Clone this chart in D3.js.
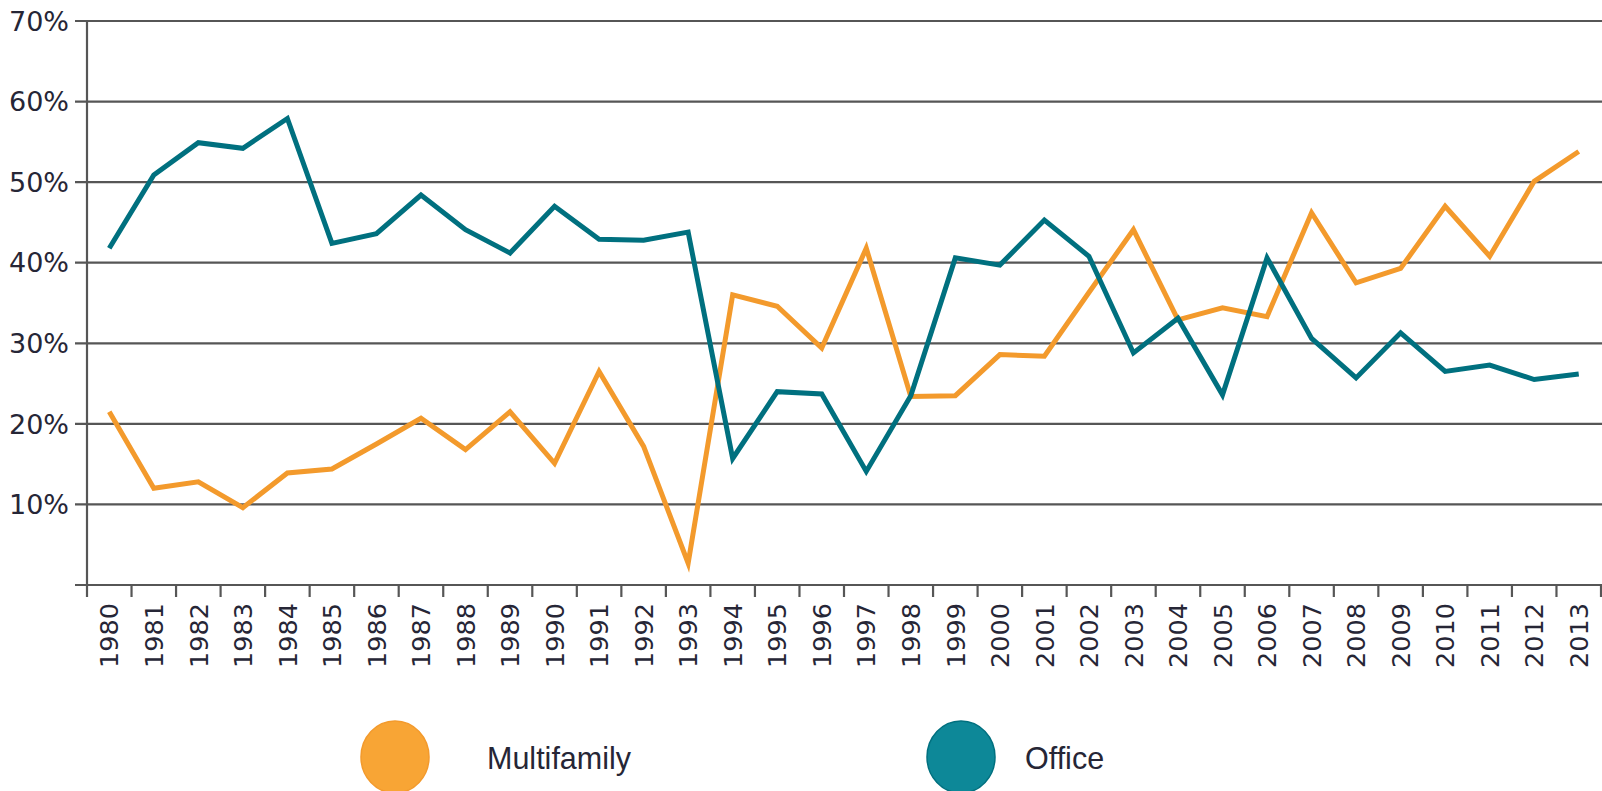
<!DOCTYPE html>
<html lang="en">
<head>
  <meta charset="UTF-8">
  <title>Multifamily vs Office share, 1980-2013</title>
  <script src="https://d3js.org/d3.v7.min.js"></script>
  <style>
    body { margin: 0; background: #fff; }
    .grid line, .axis-line { stroke: #565656; stroke-width: 2.2px; }
    .ylab { font: 27px "DejaVu Sans", sans-serif; fill: #262636; }
    .xlab { font: 25.5px "DejaVu Sans", sans-serif; fill: #262636; }
    .legend text { font: 30.5px "Liberation Sans", Arial, sans-serif; fill: #262636; }
    .series { fill: none; stroke-width: 5px; stroke-linejoin: miter; }
  </style>
</head>
<body>
<svg width="1602" height="791"></svg>
<script>
const years = ["1980","1981","1982","1983","1984","1985","1986","1987","1988","1989",
  "1990","1991","1992","1993","1994","1995","1996","1997","1998","1999",
  "2000","2001","2002","2003","2004","2005","2006","2007","2008","2009",
  "2010","2011","2012","2013"];

const multifamily = [21.5, 12.0, 12.8, 9.6, 13.9, 14.4, 17.5, 20.7, 16.8, 21.5,
  15.1, 26.5, 17.2, 2.7, 36.0, 34.6, 29.4, 41.8, 23.4, 23.5,
  28.6, 28.4, 36.3, 44.1, 32.9, 34.4, 33.3, 46.2, 37.5, 39.3,
  47.0, 40.8, 50.1, 53.8];

const office = [41.8, 50.9, 54.9, 54.2, 57.9, 42.4, 43.6, 48.4, 44.1, 41.2,
  47.0, 42.9, 42.8, 43.8, 15.7, 24.0, 23.7, 14.1, 23.5, 40.6,
  39.7, 45.3, 40.8, 28.8, 33.1, 23.6, 40.6, 30.6, 25.7, 31.3,
  26.5, 27.3, 25.5, 26.2];

const yTicks = [10, 20, 30, 40, 50, 60, 70];

const series = [
  { name: "Multifamily", values: multifamily, color: "#F39A2C", legendFill: "#F8A535", legendStroke: "#F39A2C", lx: 395, tx: 487 },
  { name: "Office", values: office, color: "#00707F", legendFill: "#0D8898", legendStroke: "#00707F", lx: 961, tx: 1025 }
];

const svg = d3.select("svg");
const plotLeft = 87, plotRight = 1601, plotTop = 21, plotBottom = 585;

const x = d3.scaleBand().domain(years).range([plotLeft, plotRight]);
const y = d3.scaleLinear().domain([0, 70]).range([plotBottom, plotTop]);

// horizontal gridlines (they reach past the axis to act as ticks)
svg.append("g").attr("class", "grid")
  .selectAll("line").data([0].concat(yTicks)).join("line")
  .attr("x1", 75).attr("x2", 1602)
  .attr("y1", d => y(d)).attr("y2", d => y(d));

// y axis line
svg.append("line").attr("class", "axis-line")
  .attr("x1", plotLeft).attr("x2", plotLeft).attr("y1", plotTop).attr("y2", plotBottom + 12);

// x ticks at band boundaries
svg.append("g").attr("class", "grid")
  .selectAll("line").data(years).join("line")
  .attr("x1", (d, i) => plotLeft + (i + 1) * x.step())
  .attr("x2", (d, i) => plotLeft + (i + 1) * x.step())
  .attr("y1", plotBottom).attr("y2", plotBottom + 12);

svg.append("g").selectAll("text").data(yTicks).join("text")
  .attr("class", "ylab")
  .attr("x", 69).attr("y", d => y(d)).attr("dy", "0.36em")
  .attr("text-anchor", "end")
  .text(d => d + "%");

svg.append("g").selectAll("text").data(years).join("text")
  .attr("class", "xlab")
  .attr("transform", d => `translate(${x(d) + x.bandwidth() / 2},603) rotate(-90)`)
  .attr("dy", "0.36em")
  .attr("text-anchor", "end")
  .text(d => d);

const line = d3.line()
  .x((d, i) => x(years[i]) + x.bandwidth() / 2)
  .y(d => y(d));

series.forEach(s => {
  svg.append("path").attr("class", "series")
    .attr("stroke", s.color)
    .attr("d", line(s.values));
});

const legend = svg.append("g").attr("class", "legend");
series.forEach(s => {
  legend.append("ellipse")
    .attr("cx", s.lx).attr("cy", 757).attr("rx", 34).attr("ry", 36)
    .attr("fill", s.legendFill).attr("stroke", s.legendStroke).attr("stroke-width", 1.5);
  legend.append("text")
    .attr("x", s.tx).attr("y", 769)
    .text(s.name);
});
</script>
</body>
</html>
